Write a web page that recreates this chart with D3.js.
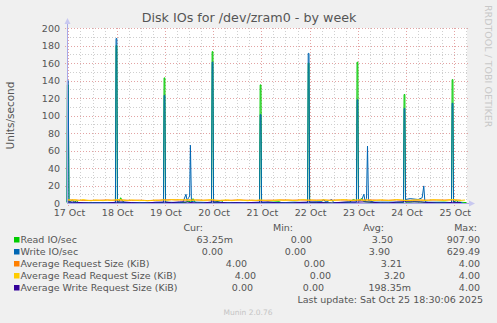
<!DOCTYPE html>
<html>
<head>
<meta charset="utf-8">
<script src="https://cdn.jsdelivr.net/npm/d3@7"></script>
<style>
  body { margin:0; background:#f0f0f0; }
  svg text { font-family:"DejaVu Sans", sans-serif; fill:#555; }
</style>
</head>
<body>
<div id="chart"></div>
<script>
// times are hours after 17 Oct 00:00
var startHour = -0.7, endHour = 198.3;

var yTicks = [0,20,40,60,80,100,120,140,160,180,200];
var dayTicks = [0,24,48,72,96,120,144,168,192];

// Read IO/sec  [hour, value]
var readIO = [[-0.7,0.5],[-0.5,135],[-0.1,135],[0.3,0.3],[1,2],[2,3.5],[3,1],[4,2.5],[5,0.5],[8,0],[12,0.3],[18,0],[23.4,0.4],[23.7,180],[24.1,180],[24.4,0.5],[25,1],[26,6],[27,2],[28,0.5],[35,0],[44,0.3],[47.3,0.5],[47.6,143],[48,143],[48.3,1],[50,0.5],[58,0.5],[59,1.5],[60,2],[61,1],[62,5],[63,1],[64,0],[71.2,0.3],[71.5,173],[71.9,173],[72.2,0.5],[76,3],[77,0.5],[84,0],[95.1,0.2],[95.4,135],[95.8,135],[96.1,0.3],[98,0.5],[105,1.5],[106,0.2],[119,0.3],[119.3,160],[119.7,160],[120,0.5],[126,0.8],[131,0],[140,1],[141,3],[142,4],[143.3,2],[143.6,161],[144,161],[144.3,3],[146,5],[147,1.5],[150,1],[153,0.3],[158,0],[166.7,0.5],[167,124],[167.4,124],[167.7,1],[170,1],[172,1.5],[176,1],[180,0.5],[187,1],[190.6,0.5],[190.9,141],[191.3,141],[191.6,1],[193,3],[194,1],[198,0.5]];

// Write IO/sec
var writeIO = [[-0.7,1],[-0.5,140],[-0.1,140],[0.3,1],[2,0.5],[10,0.2],[23.4,0.5],[23.7,188],[24.1,188],[24.4,1],[30,0.3],[47.3,0.5],[47.6,123],[48,123],[48.3,1],[55,0.5],[57,1],[58.5,10],[59,3],[59.8,6],[60.3,8],[60.7,66],[61.2,2],[63,1],[71.2,0.5],[71.5,161],[71.9,161],[72.2,1],[80,0.3],[95.1,0.5],[95.4,101],[95.8,101],[96.1,0.5],[108,0.5],[112,1],[119,0.5],[119.3,171],[119.7,171],[120,1],[126,1.5],[127,4],[128,1],[131,4],[132,0.5],[143.3,1],[143.6,118],[144,118],[144.3,2],[146,4],[147,10],[147.6,2],[148.3,5],[148.8,65],[149.3,3],[152,1],[166.7,1],[167,108],[167.4,108],[167.7,4],[170,5],[174,4],[176,6],[176.8,19.5],[177.3,3],[178,1],[190.6,0.5],[190.9,114],[191.3,114],[191.6,1],[196,0.5]];

// Average Read Request Size (KiB), one value every 2 hours from startHour
var avgRead = [3.8,3.2,3.6,2.8,3.9,3.1,2.6,3.4,3.0,2.7,3.3,2.9,3.7,4.0,3.2,2.8,3.5,3.1,2.7,3.0,
  2.5,2.9,3.3,2.8,3.6,3.0,3.9,3.4,3.8,3.5,3.7,3.2,3.6,3.3,3.0,3.5,3.9,3.1,2.9,3.3,
  3.6,2.7,3.2,3.8,3.0,2.6,3.3,2.9,3.5,3.1,2.4,2.8,3.2,3.6,2.9,3.4,3.0,2.7,3.5,3.9,
  3.1,3.4,2.8,3.2,3.7,3.0,2.6,3.3,3.6,3.9,3.2,2.9,3.4,3.8,3.1,3.5,2.7,3.0,3.6,3.2,
  2.8,3.3,3.9,3.5,3.0,2.6,3.2,3.7,3.4,2.9,3.1,3.8,3.5,3.2,2.8,3.6,3.9,3.3,3.0,3.4];

// Average Request Size (KiB), one value every 4 hours
var avgReq = [3.6,3.4,3.0,3.0,3.2,3.5,3.1,3.4,3.0,3.3,2.8,3.1,3.6,3.7,3.5,3.3,3.4,3.2,3.3,3.0,
  3.0,3.4,3.3,3.1,3.0,3.3,3.2,3.5,3.2,3.5,3.2,3.4,3.2,3.3,3.4,3.3,3.1,3.4,3.5,3.2,
  3.2,3.5,3.0,3.2,3.3,3.3,3.4,3.4,3.5,3.2];

// Average Write Request Size (KiB), one value every 4 hours
var avgWrite = [1.2,1.0,0.3,0,0,0,0.8,1.2,0.5,0,0,0.9,1.1,0.4,1.3,1.0,0,0,1.2,0.9,
  0,0.4,0,0.6,1.0,1.2,0.3,0,0,0.6,1.1,0.8,0.4,0,0.7,1.2,1.0,1.3,0.9,0,
  0,1.0,1.4,1.3,1.2,0.5,0,0,0.8,0.6];

var legendNames = ["Read IO/sec","Write IO/sec","Average Request Size (KiB)","Average Read Request Size (KiB)","Average Write Request Size (KiB)"];
var legendColors = ["#00cc00","#0066b3","#ff8000","#ffcc00","#330099"];
var curVals = ["63.25m","0.00","4.00","4.00","0.00"];
var minVals = ["0.00","0.00","0.00","0.00","0.00"];
var avgVals = ["3.50","3.90","3.21","3.20","198.35m"];
var maxVals = ["907.90","629.49","4.00","4.00","4.00"];

var W = 497, H = 323;
var plot = {left:67, top:28, width:400, height:175};

var svg = d3.select("#chart").append("svg")
    .attr("width", W).attr("height", H);

var t0 = Date.UTC(2025, 9, 17);
function hourDate(h) { return new Date(t0 + h*3600000); }

var x = d3.scaleUtc()
    .domain([hourDate(startHour), hourDate(endHour)])
    .range([plot.left, plot.left + plot.width]);
var y = d3.scaleLinear()
    .domain([0, 200])
    .range([plot.top + plot.height, plot.top]);

svg.append("rect")
    .attr("x", plot.left).attr("y", plot.top)
    .attr("width", plot.width).attr("height", plot.height)
    .style("fill", "#fff");

// grid
var g = svg.append("g");
var minorX = d3.range(6, endHour, 6).filter(function(h){ return h % 24 != 0; });
g.selectAll(".mx").data(minorX).enter().append("line")
    .attr("x1", function(h){ return Math.round(x(hourDate(h)))+0.5; })
    .attr("x2", function(h){ return Math.round(x(hourDate(h)))+0.5; })
    .attr("y1", plot.top).attr("y2", plot.top+plot.height)
    .style("stroke","#cfcfcf").style("stroke-dasharray","1,2");
var minorY = d3.range(10, 200, 20);
g.selectAll(".my").data(minorY).enter().append("line")
    .attr("x1", plot.left).attr("x2", plot.left+plot.width+2)
    .attr("y1", function(v){ return Math.round(y(v))+0.5; })
    .attr("y2", function(v){ return Math.round(y(v))+0.5; })
    .style("stroke","#cfcfcf").style("stroke-dasharray","1,2");
g.selectAll(".Mx").data(dayTicks).enter().append("line")
    .attr("x1", function(h){ return Math.round(x(hourDate(h)))+0.5; })
    .attr("x2", function(h){ return Math.round(x(hourDate(h)))+0.5; })
    .attr("y1", plot.top).attr("y2", plot.top+plot.height+3)
    .style("stroke","#e3a3a3").style("stroke-dasharray","1,2");
g.selectAll(".My").data(yTicks.slice(1)).enter().append("line")
    .attr("x1", plot.left-2).attr("x2", plot.left+plot.width+2)
    .attr("y1", function(v){ return Math.round(y(v))+0.5; })
    .attr("y2", function(v){ return Math.round(y(v))+0.5; })
    .style("stroke","#e3a3a3").style("stroke-dasharray","1,2");
// right edge
g.append("line")
    .attr("x1", plot.left+plot.width-0.5).attr("x2", plot.left+plot.width-0.5)
    .attr("y1", plot.top).attr("y2", plot.top+plot.height)
    .style("stroke","#cfcfcf").style("stroke-dasharray","1,2");

// series
var line = d3.line()
    .x(function(d){ return x(hourDate(d[0])); })
    .y(function(d){ return y(d[1]); });

function regular(vals, step) {
    return vals.map(function(v, i){ return [startHour + i*step, v]; });
}

var series = [
    {data: readIO, color: legendColors[0]},
    {data: writeIO, color: legendColors[1]},
    {data: regular(avgReq, 4), color: legendColors[2]},
    {data: regular(avgRead, 2), color: legendColors[3]},
    {data: regular(avgWrite, 4), color: legendColors[4]}
];
svg.append("g").selectAll("path").data(series).enter().append("path")
    .attr("d", function(s){ return line(s.data); })
    .style("fill","none")
    .style("stroke", function(s){ return s.color; })
    .style("stroke-width", 1);

// axes
var axisColor = "#a8a8e8";
svg.append("line")
    .attr("x1", plot.left+0.5).attr("x2", plot.left+0.5)
    .attr("y1", plot.top+plot.height).attr("y2", plot.top-6)
    .style("stroke", axisColor);
svg.append("path")
    .attr("d", "M"+(plot.left-2.5)+","+(plot.top-4)+" L"+(plot.left+0.5)+","+(plot.top-10)+" L"+(plot.left+3.5)+","+(plot.top-4)+"Z")
    .style("fill", "#c8c8f0");
svg.append("line")
    .attr("x1", plot.left).attr("x2", plot.left+plot.width+4)
    .attr("y1", plot.top+plot.height+0.5).attr("y2", plot.top+plot.height+0.5)
    .style("stroke", axisColor);
svg.append("path")
    .attr("d", "M"+(plot.left+plot.width+2)+","+(plot.top+plot.height-2.5)+" L"+(plot.left+plot.width+8)+","+(plot.top+plot.height+0.5)+" L"+(plot.left+plot.width+2)+","+(plot.top+plot.height+3.5)+"Z")
    .style("fill", "#c8c8f0");

// tick labels
svg.append("g").selectAll("text").data(yTicks).enter().append("text")
    .attr("x", plot.left-7)
    .attr("y", function(v){ return y(v)+3.5; })
    .style("text-anchor","end")
    .style("font-size","9.5px")
    .text(function(v){ return v; });
var fmt = d3.utcFormat("%d %b");
svg.append("g").selectAll("text").data(dayTicks).enter().append("text")
    .attr("x", function(h){ return x(hourDate(h))+1; })
    .attr("y", plot.top+plot.height+13)
    .style("text-anchor","middle")
    .style("font-size","9.5px")
    .text(function(h){ return fmt(hourDate(h)); });

// titles
svg.append("text")
    .attr("x", 249).attr("y", 22)
    .style("text-anchor","middle")
    .style("font-size","12.7px")
    .text("Disk IOs for /dev/zram0 - by week");
svg.append("text")
    .attr("transform","translate(14," + (plot.top+plot.height/2) + ") rotate(-90)")
    .style("text-anchor","middle")
    .style("font-size","10.5px")
    .text("Units/second");
svg.append("text")
    .attr("transform","translate(485,5) rotate(90)")
    .style("font-size","9.5px")
    .style("fill","#c8c8c8")
    .text("RRDTOOL / TOBI OETIKER");

// legend
var headX = [203, 293, 384, 477];
["Cur:","Min:","Avg:","Max:"].forEach(function(t, i){
    svg.append("text").attr("x", headX[i]).attr("y", 230.5)
        .style("text-anchor","end").style("font-size","9.5px").text(t);
});
var colEnds = [[233,312,393,480],[223,306,390,480],[247,325,402,480],[256,331,405,480],[253,324,411,480]];
legendNames.forEach(function(name, i){
    var cy = 239.7 + i*12;
    svg.append("rect").attr("x", 14).attr("y", cy-2.7)
        .attr("width", 5.5).attr("height", 5.5)
        .style("fill", legendColors[i]);
    svg.append("text").attr("x", 20.5).attr("y", cy+3.5)
        .style("font-size","9.5px").text(name);
    [curVals[i], minVals[i], avgVals[i], maxVals[i]].forEach(function(v, j){
        svg.append("text").attr("x", colEnds[i][j]).attr("y", cy+3.5)
            .style("text-anchor","end").style("font-size","9.5px").text(v);
    });
});
svg.append("text").attr("x", 483).attr("y", 303)
    .style("text-anchor","end").style("font-size","9.5px")
    .text("Last update: Sat Oct 25 18:30:06 2025");
svg.append("text").attr("x", 248).attr("y", 314.5)
    .style("text-anchor","middle").style("font-size","7.5px")
    .style("fill","#c4c4c4")
    .text("Munin 2.0.76");
</script>
</body>
</html>
